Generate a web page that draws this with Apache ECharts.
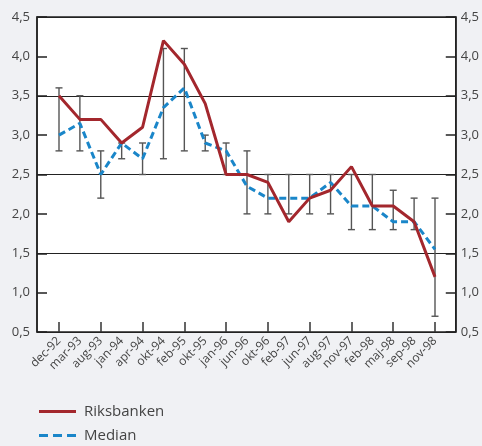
<!DOCTYPE html>
<html>
<head>
<meta charset="utf-8">
<script src="https://cdn.jsdelivr.net/npm/echarts@6/dist/echarts.min.js"></script>
<style>
  html, body { margin: 0; padding: 0; background: #f0f1f4; }
  #chart { width: 482px; height: 446px; }
</style>
</head>
<body>
<div id="chart"></div>
<script>
var months = ['dec-92', 'mar-93', 'aug-93', 'jan-94', 'apr-94', 'okt-94', 'feb-95', 'okt-95', 'jan-96', 'jun-96',
  'okt-96', 'feb-97', 'jun-97', 'aug-97', 'nov-97', 'feb-98', 'maj-98', 'sep-98', 'nov-98'];
var riksbanken = [3.5, 3.2, 3.2, 2.9, 3.1, 4.2, 3.9, 3.4, 2.5, 2.5, 2.4, 1.9, 2.2, 2.3, 2.6, 2.1, 2.1, 1.9, 1.2];
var median = [3.0, 3.15, 2.5, 2.9, 2.7, 3.35, 3.6, 2.9, 2.8, 2.35, 2.2, 2.2, 2.2, 2.4, 2.1, 2.1, 1.9, 1.9, 1.55];
var rangeLow = [2.8, 2.8, 2.2, 2.7, 2.5, 2.7, 2.8, 2.8, 2.5, 2.0, 2.0, 2.0, 2.0, 2.0, 1.8, 1.8, 1.8, 1.8, 0.7];
var rangeHigh = [3.6, 3.5, 2.8, 2.9, 2.9, 4.1, 4.1, 3.0, 2.9, 2.8, 2.5, 2.5, 2.5, 2.5, 2.5, 2.5, 2.3, 2.2, 2.2];

var chart = echarts.init(document.getElementById('chart'));

var fmt = function (v) { return v.toFixed(1).replace('.', ','); };
var txt = '#444';
var font = 'Open Sans';
var red = '#a3272d';
var blue = '#1a86c9';

// en legend per rad, så att de hamnar under varandra
function legendRow(name, icon, color, top) {
  return {
    left: 39,
    top: top,
    padding: 0,
    itemWidth: 37,
    itemHeight: 3,
    textStyle: { color: txt, fontSize: 15, fontFamily: font, padding: [0, 0, 0, 3] },
    data: [{ name: name, icon: icon, itemStyle: { color: color } }]
  };
}

var option = {
  backgroundColor: '#f0f1f4',
  textStyle: { fontFamily: font },
  grid: [
    // ram runt diagrammet
    { left: 37, right: 26, top: 17, bottom: 114, show: true, backgroundColor: '#fff', borderColor: '#222', borderWidth: 1.5 },
    // dataområdet
    { left: 59, right: 47, top: 17, bottom: 114 }
  ],
  xAxis: [
    { gridIndex: 0, type: 'value', show: false, min: 0, max: 1 },
    {
      gridIndex: 1,
      type: 'category',
      data: months,
      boundaryGap: false,
      axisLine: { show: false },
      axisTick: { show: true, inside: true, length: 10, interval: 1, lineStyle: { color: '#333', width: 1.5 } },
      axisLabel: { interval: 0, rotate: 45, color: txt, fontSize: 12, margin: 7, fontFamily: font },
      splitLine: { show: false }
    }
  ],
  yAxis: [
    {
      gridIndex: 0, type: 'value', position: 'left', min: 0.5, max: 4.5, interval: 0.5,
      axisLine: { show: true, lineStyle: { color: '#222', width: 1.5 } },
      axisTick: { show: true, inside: true, length: 10, lineStyle: { color: '#222', width: 1.5 } },
      axisLabel: { color: txt, fontSize: 13, margin: 7, formatter: fmt, fontFamily: font },
      splitLine: { show: false }
    },
    {
      gridIndex: 0, type: 'value', position: 'right', min: 0.5, max: 4.5, interval: 0.5,
      axisLine: { show: true, lineStyle: { color: '#222', width: 1.5 } },
      axisTick: { show: true, inside: true, length: 10, lineStyle: { color: '#222', width: 1.5 } },
      axisLabel: { color: txt, fontSize: 13, margin: 5, formatter: fmt, fontFamily: font },
      splitLine: { show: false }
    },
    {
      gridIndex: 0, type: 'value', position: 'left', min: 0.5, max: 4.5, interval: 1,
      axisLine: { show: false }, axisTick: { show: false }, axisLabel: { show: false },
      splitLine: { show: true, lineStyle: { color: '#222', width: 1.2 } }
    },
    { gridIndex: 1, type: 'value', min: 0.5, max: 4.5, show: false }
  ],
  legend: [
    legendRow('Riksbanken', 'path://M0,0h37v3h-37z', red, 404),
    legendRow('Median', 'path://M0,0h9v3h-9zM14,0h9v3h-9zM28,0h9v3h-9z', blue, 428)
  ],
  series: [
    {
      name: 'intervall',
      type: 'custom',
      xAxisIndex: 1,
      yAxisIndex: 3,
      data: months.map(function (m, i) { return [i, rangeLow[i], rangeHigh[i]]; }),
      renderItem: function (params, api) {
        var lo = api.coord([api.value(0), api.value(1)]);
        var hi = api.coord([api.value(0), api.value(2)]);
        var w = 3.5;
        var style = { stroke: '#555', lineWidth: 1.4 };
        return {
          type: 'group',
          children: [
            { type: 'line', shape: { x1: lo[0], y1: lo[1], x2: hi[0], y2: hi[1] }, style: style },
            { type: 'line', shape: { x1: lo[0] - w, y1: lo[1], x2: lo[0] + w, y2: lo[1] }, style: style },
            { type: 'line', shape: { x1: hi[0] - w, y1: hi[1], x2: hi[0] + w, y2: hi[1] }, style: style }
          ]
        };
      },
      silent: true,
      z: 2
    },
    {
      name: 'Median',
      type: 'line',
      xAxisIndex: 1,
      yAxisIndex: 3,
      data: median,
      symbol: 'none',
      lineStyle: { color: blue, width: 3, type: [7, 4] },
      itemStyle: { color: blue },
      z: 3
    },
    {
      name: 'Riksbanken',
      type: 'line',
      xAxisIndex: 1,
      yAxisIndex: 3,
      data: riksbanken,
      symbol: 'none',
      lineStyle: { color: red, width: 3 },
      itemStyle: { color: red },
      z: 4
    }
  ]
};

chart.setOption(option);
</script>
</body>
</html>
